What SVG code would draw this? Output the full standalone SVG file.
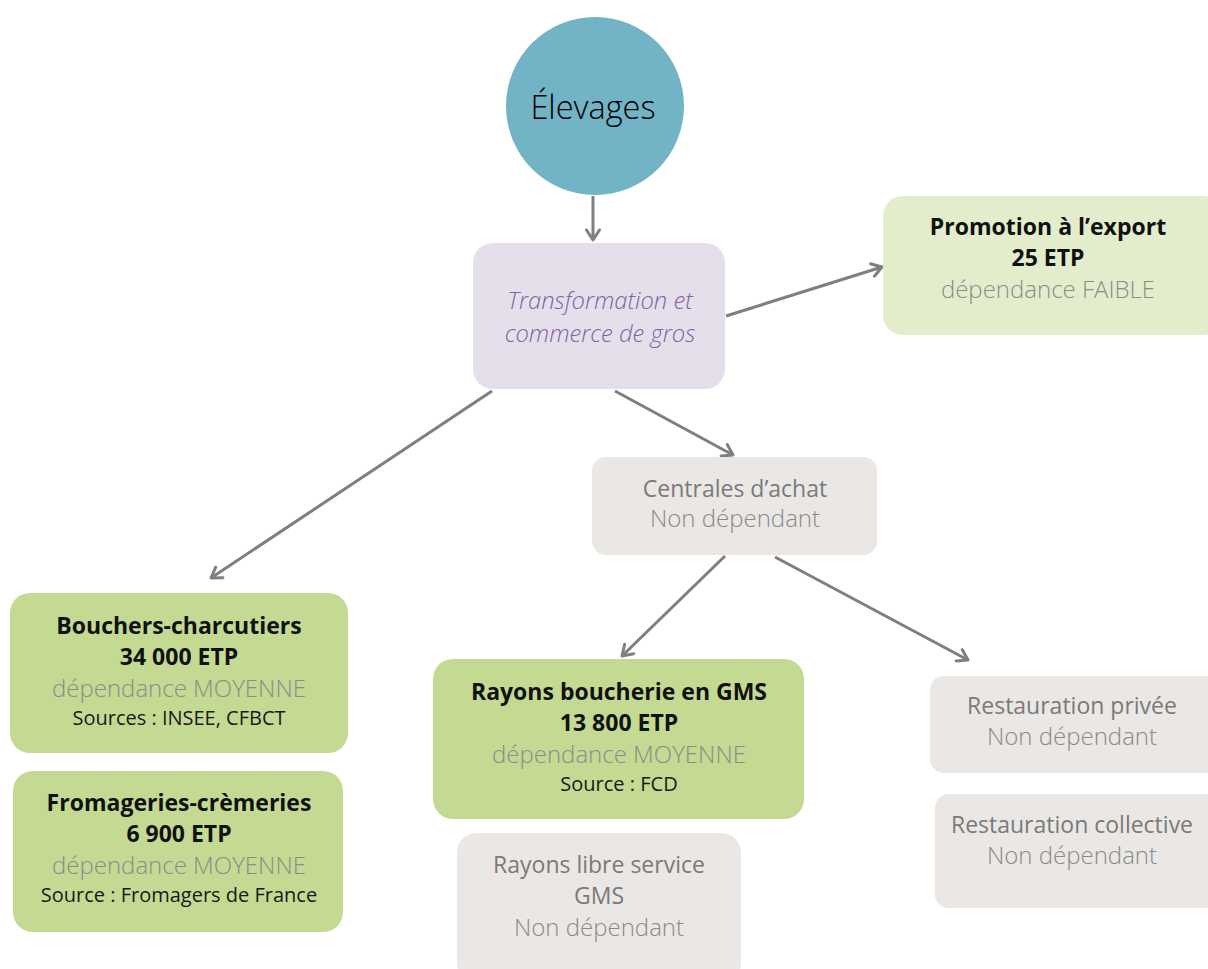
<svg xmlns="http://www.w3.org/2000/svg" width="1208" height="969" viewBox="0 0 1208 969">
<defs>
<marker id="arr" viewBox="0 0 16 16" refX="13" refY="8" markerWidth="16" markerHeight="16" markerUnits="userSpaceOnUse" orient="auto">
<path d="M3,1.5 L13,8 L3,14.5" fill="none" stroke="#7F7F7F" stroke-width="3" stroke-linecap="round" stroke-linejoin="round"/>
</marker>
</defs>
<style>
text{font-family:"Open Sans","Noto Sans","Liberation Sans",sans-serif;text-anchor:middle;}
.conn{stroke:#7F7F7F;stroke-width:3;fill:none;marker-end:url(#arr);}
.green{fill:#C4D992;}
.pale{fill:#E3EDCB;}
.grey{fill:#EAE7E4;}
.lav{fill:#E5DFEC;}
.b{font-size:23px;font-weight:700;fill:#111;}
.d{font-size:24px;font-weight:300;fill:#8C8C8C;}
.s{font-size:20px;font-weight:400;fill:#1A1A1A;}
.g1{font-size:23px;font-weight:400;fill:#7A7A7A;}
.g2{font-size:24px;font-weight:300;fill:#8A8A8A;}
</style>
<rect width="1208" height="969" fill="#FFFFFF"/>
<g id="connectors">
<line class="conn" x1="593" y1="196" x2="593" y2="240"/>
<line class="conn" x1="726" y1="316" x2="882" y2="267"/>
<line class="conn" x1="492" y1="391" x2="211" y2="578"/>
<line class="conn" x1="615" y1="391" x2="733" y2="455"/>
<line class="conn" x1="725" y1="556" x2="622" y2="656"/>
<line class="conn" x1="775" y1="557" x2="968" y2="660"/>
</g>
<g id="elevages">
<circle cx="595" cy="106" r="89" fill="#72B3C6"/>
<text x="593" y="119" style="font-size:32.5px;font-weight:300;fill:#000;">Élevages</text>
</g>
<g id="transformation">
<rect class="lav" x="473" y="243" width="252" height="146" rx="20"/>
<text x="600" y="309" style="font-size:23.8px;font-weight:300;font-style:italic;fill:#8064A2;">Transformation et</text>
<text x="600" y="342" style="font-size:23.8px;font-weight:300;font-style:italic;fill:#8064A2;">commerce de gros</text>
</g>
<g id="promotion">
<rect class="pale" x="883" y="196" width="340" height="139" rx="20"/>
<text class="b" x="1048" y="235">Promotion à l’export</text>
<text class="b" x="1048" y="266">25 ETP</text>
<text class="d" x="1048" y="298">dépendance FAIBLE</text>
</g>
<g id="bouchers">
<rect class="green" x="10" y="593" width="338" height="160" rx="20"/>
<text class="b" x="179" y="634">Bouchers-charcutiers</text>
<text class="b" x="179" y="665">34 000 ETP</text>
<text class="d" x="179" y="697">dépendance MOYENNE</text>
<text class="s" x="179" y="725">Sources : INSEE, CFBCT</text>
</g>
<g id="fromageries">
<rect class="green" x="13" y="771" width="330" height="161" rx="20"/>
<text class="b" x="179" y="811">Fromageries-crèmeries</text>
<text class="b" x="179" y="842">6 900 ETP</text>
<text class="d" x="179" y="874">dépendance MOYENNE</text>
<text class="s" x="179" y="902">Source : Fromagers de France</text>
</g>
<g id="centrales">
<rect class="grey" x="592" y="457" width="285" height="98" rx="14"/>
<text class="g1" x="735" y="497">Centrales d’achat</text>
<text class="g2" x="735" y="527">Non dépendant</text>
</g>
<g id="rayons-boucherie">
<rect class="green" x="433" y="659" width="371" height="160" rx="20"/>
<text class="b" x="619" y="700">Rayons boucherie en GMS</text>
<text class="b" x="619" y="731">13 800 ETP</text>
<text class="d" x="619" y="763">dépendance MOYENNE</text>
<text class="s" x="619" y="791">Source : FCD</text>
</g>
<g id="rayons-libre">
<rect class="grey" x="457" y="833" width="284" height="150" rx="20"/>
<text class="g1" x="599" y="873">Rayons libre service</text>
<text class="g1" x="599" y="904">GMS</text>
<text class="g2" x="599" y="936">Non dépendant</text>
</g>
<g id="restauration-privee">
<rect class="grey" x="930" y="676" width="290" height="97" rx="14"/>
<text class="g1" x="1072" y="714">Restauration privée</text>
<text class="g2" x="1072" y="745">Non dépendant</text>
</g>
<g id="restauration-collective">
<rect class="grey" x="935" y="794" width="285" height="114" rx="14"/>
<text class="g1" x="1072" y="833">Restauration collective</text>
<text class="g2" x="1072" y="864">Non dépendant</text>
</g>
</svg>
